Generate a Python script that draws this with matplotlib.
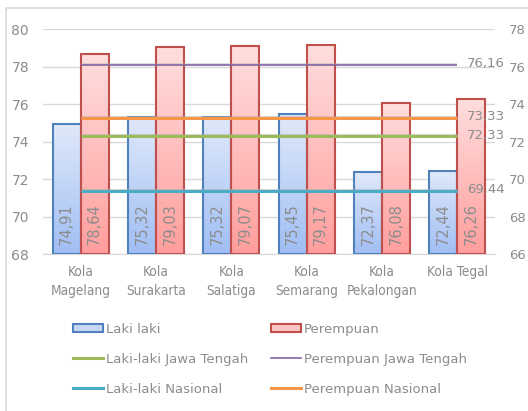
import numpy as np
import matplotlib
matplotlib.use("Agg")
from matplotlib import pyplot as plt
from matplotlib.patches import Rectangle, Patch
from matplotlib.lines import Line2D
from matplotlib.colors import LinearSegmentedColormap

cities = ["Kola\nMagelang", "Kola\nSurakarta", "Kola\nSalatiga",
          "Kola\nSemarang", "Kola\nPekalongan", "Kola Tegal"]
laki = [74.91, 75.32, 75.32, 75.45, 72.37, 72.44]
perempuan = [78.64, 79.03, 79.07, 79.17, 76.08, 76.26]
laki_labels = ["74,91", "75,32", "75,32", "75,45", "72,37", "72,44"]
perempuan_labels = ["78,64", "79,03", "79,07", "79,17", "76,08", "76,26"]

laki_jateng = 72.33
perempuan_jateng = 76.16
laki_nasional = 69.44
perempuan_nasional = 73.33

GRAY_TEXT = "#8c8c8c"
BLUE_EDGE = "#4F81BD"
RED_EDGE = "#C0504D"
BLUE_GRAD = ["#A0BEF4", "#E0E9FA"]
RED_GRAD = ["#FF9E9C", "#FFDEDE"]

plt.rcParams["font.family"] = ["DejaVu Sans"]

fig = plt.figure(figsize=(5.28, 4.11), dpi=100)
ax = fig.add_axes([43 / 528, 1 - 254 / 411, 452 / 528, 225 / 411])
ax2 = ax.twinx()

# outer chart frame (cut on the right and bottom)
fig.patches.append(Rectangle((6 / 528, -0.1), 2, 1.1 - 8 / 411, transform=fig.transFigure,
                             fill=False, edgecolor="#d9d9d9", linewidth=1.2))

x = np.arange(len(cities))
w = 0.37


def gradient_bars(xs, heights, colors, edge):
    cmap = LinearSegmentedColormap.from_list("g", colors)
    grad = np.linspace(0, 1, 256).reshape(-1, 1)
    bars = ax.bar(xs, np.array(heights) - 68, w, bottom=68, facecolor="none",
                  edgecolor=edge, linewidth=1.5, zorder=3)
    for b in bars:
        bx, by = b.get_x(), b.get_y()
        bw, bh = b.get_width(), b.get_height()
        im = ax.imshow(grad, cmap=cmap, origin="lower", aspect="auto",
                       extent=(bx, bx + bw, by, by + bh), zorder=2)
        im.set_clip_path(b)
    return bars


gradient_bars(x - w / 2, laki, BLUE_GRAD, BLUE_EDGE)
gradient_bars(x + w / 2, perempuan, RED_GRAD, RED_EDGE)

for i in range(len(cities)):
    ax.text(x[i] - w / 2, 68.5, laki_labels[i], rotation=90, ha="center", va="bottom",
            fontsize=10.5, color=GRAY_TEXT, zorder=4)
    ax.text(x[i] + w / 2, 68.5, perempuan_labels[i], rotation=90, ha="center", va="bottom",
            fontsize=10.5, color=GRAY_TEXT, zorder=4)

ax.set_xlim(-0.5, len(cities) - 0.5)
ax.set_ylim(68, 80)
ax.set_yticks(np.arange(68, 81, 2))
ax.set_xticks(x)
ax.set_xticklabels(cities, color=GRAY_TEXT, linespacing=1.45, fontsize=9.8,
                   fontstretch="condensed")
ax.tick_params(axis="y", length=0, colors=GRAY_TEXT, labelsize=10, pad=10)
ax.tick_params(axis="x", length=0, colors=GRAY_TEXT, pad=8)
ax.grid(axis="y", color="#d9d9d9", linewidth=1, zorder=0)
ax.set_axisbelow(True)
for s in ["top", "left", "right"]:
    ax.spines[s].set_visible(False)
ax.spines["bottom"].set_color("#d9d9d9")

# reference lines on the right axis
ax2.set_ylim(66, 78)
ax2.set_yticks(np.arange(66, 79, 2))
ax2.tick_params(axis="y", length=0, colors=GRAY_TEXT, labelsize=9.5, pad=10)
for s in ax2.spines.values():
    s.set_visible(False)

ref_lines = [
    (laki_jateng, "#9BBB59", 2.2, "72,33", "Laki-laki Jawa Tengah"),
    (perempuan_jateng, "#8064A2", 1.2, "76,16", "Perempuan Jawa Tengah"),
    (laki_nasional, "#4BACC6", 2.2, "69,44", "Laki-laki Nasional"),
    (perempuan_nasional, "#F79646", 2.2, "73,33", "Perempuan Nasional"),
]
line_handles = {}
for val, col, lw, lab, name in ref_lines:
    ax2.plot([x[0], x[-1]], [val, val], color="#b0b0b0", linewidth=lw, alpha=0.5,
             zorder=2, solid_capstyle="butt")
    ax2.plot([x[0], x[-1]], [val - 0.06, val - 0.06], color=col, linewidth=lw, zorder=3,
             solid_capstyle="butt")
    ax2.text(x[-1] + 0.13, val, lab, ha="left", va="center", fontsize=9.5,
             color=GRAY_TEXT, zorder=4)
    line_handles[name] = Line2D([], [], color=col, linewidth=lw)

handles = [
    Patch(facecolor="#C9D8F6", edgecolor=BLUE_EDGE, linewidth=1.5),
    line_handles["Laki-laki Jawa Tengah"],
    line_handles["Laki-laki Nasional"],
    Patch(facecolor="#FFC4C4", edgecolor=RED_EDGE, linewidth=1.5),
    line_handles["Perempuan Jawa Tengah"],
    line_handles["Perempuan Nasional"],
]
labels = ["Laki laki", "Laki-laki Jawa Tengah", "Laki-laki Nasional",
          "Perempuan", "Perempuan Jawa Tengah", "Perempuan Nasional"]
leg = fig.legend(handles, labels, ncol=2, loc="upper left",
                 bbox_to_anchor=(66 / 528, 1 - 316 / 411), frameon=False,
                 fontsize=9.5, handlelength=2.3, handleheight=0.6, handletextpad=0.2,
                 labelspacing=1.3, columnspacing=1.75, borderpad=0)
for t in leg.get_texts():
    t.set_color(GRAY_TEXT)

fig.savefig("out.png", dpi=100)
